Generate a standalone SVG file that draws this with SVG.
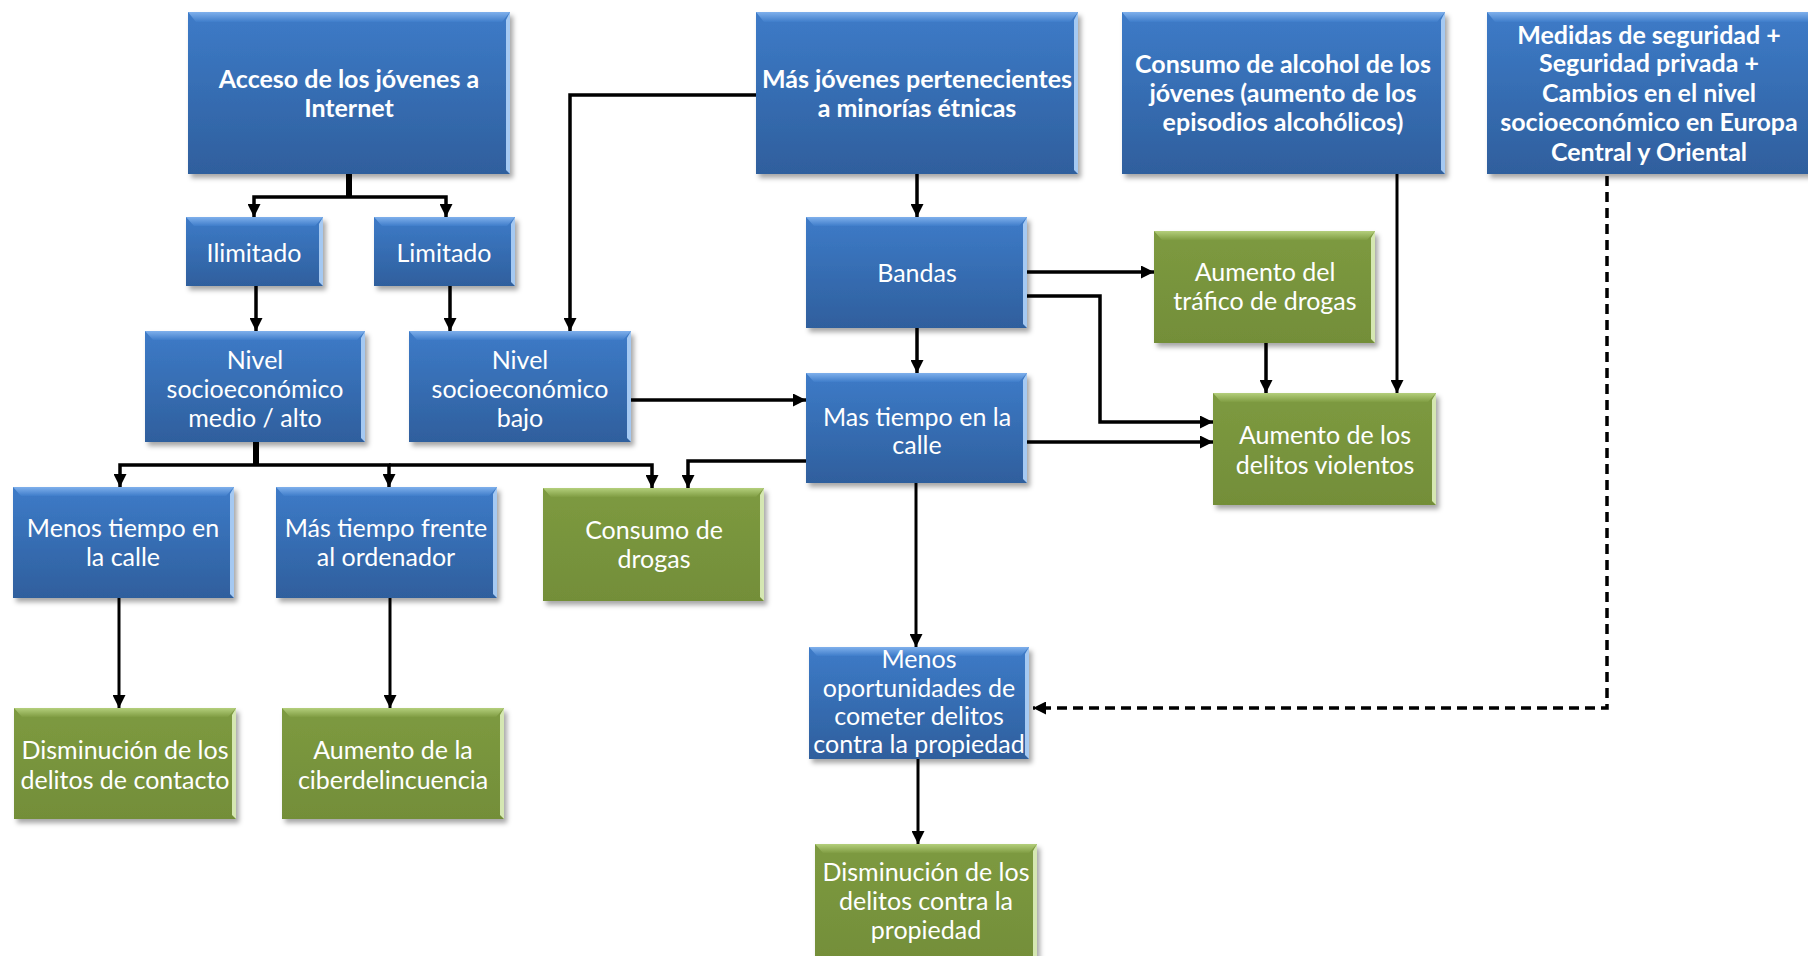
<svg xmlns="http://www.w3.org/2000/svg" width="1808" height="956" viewBox="0 0 1808 956">
<defs>
<linearGradient id="gBlue" x1="0" y1="0" x2="0" y2="1"><stop offset="0" stop-color="#3d7bc8"/><stop offset="1" stop-color="#2f5f9d"/></linearGradient>
<linearGradient id="gBlueTop" x1="0" y1="0" x2="0" y2="1"><stop offset="0" stop-color="#7fb0ec"/><stop offset="1" stop-color="#3f7dca"/></linearGradient>
<linearGradient id="gGreen" x1="0" y1="0" x2="0" y2="1"><stop offset="0" stop-color="#7d9a40"/><stop offset="1" stop-color="#738e39"/></linearGradient>
<linearGradient id="gGreenTop" x1="0" y1="0" x2="0" y2="1"><stop offset="0" stop-color="#b4cf7c"/><stop offset="1" stop-color="#809d43"/></linearGradient>
<filter id="sh" x="-10%" y="-10%" width="125%" height="130%"><feDropShadow dx="3" dy="4" stdDeviation="2.5" flood-color="#000" flood-opacity="0.35"/></filter>
<marker id="ah" markerUnits="userSpaceOnUse" markerWidth="13" markerHeight="13" viewBox="0 0 10 10" refX="10" refY="5" orient="auto"><path d="M0,0 L10,5 L0,10 z" fill="#000"/></marker>
</defs>
<style>
.blue .body{fill:url(#gBlue);filter:url(#sh)}
.blue .top{fill:url(#gBlueTop)}
.blue .rs{fill:#a5c9f2}
.green .body{fill:url(#gGreen);filter:url(#sh)}
.green .top{fill:url(#gGreenTop)}
.green .rs{fill:#d5e7b2}
text{font-family:"Lato","Liberation Sans",sans-serif;font-size:25px;fill:#fff;text-anchor:middle}
.b{font-weight:bold}
.c{fill:none;stroke:#000;stroke-width:3.5}
.c.thin{stroke-width:3}
.c.thick{stroke-width:6}
.c.dash{stroke-width:3.5;stroke-dasharray:10 6}
</style>
<rect width="1808" height="956" fill="#fff"/>

<g id="connectors">
<path class="c thick" d="M349,174 V197"/>
<path class="c" d="M349,197 H254 V217" marker-end="url(#ah)"/>
<path class="c" d="M349,197 H446 V217" marker-end="url(#ah)"/>
<path class="c" d="M256,286 V331" marker-end="url(#ah)"/>
<path class="c" d="M450,286 V331" marker-end="url(#ah)"/>
<path class="c" d="M756,95 H570 V331" marker-end="url(#ah)"/>
<path class="c thick" d="M256,442 V465"/>
<path class="c" d="M256,465 H120 V487" marker-end="url(#ah)"/>
<path class="c" d="M256,465 H389 V487" marker-end="url(#ah)"/>
<path class="c" d="M389,465 H652 V488" marker-end="url(#ah)"/>
<path class="c" d="M806,461 H688 V488" marker-end="url(#ah)"/>
<path class="c" d="M917,174 V217" marker-end="url(#ah)"/>
<path class="c" d="M917,328 V373" marker-end="url(#ah)"/>
<path class="c" d="M631,400 H806" marker-end="url(#ah)"/>
<path class="c" d="M1027,272 H1154" marker-end="url(#ah)"/>
<path class="c" d="M1027,296 H1100 V422 H1213" marker-end="url(#ah)"/>
<path class="c" d="M1027,442 H1213" marker-end="url(#ah)"/>
<path class="c" d="M1266,343 V393" marker-end="url(#ah)"/>
<path class="c thin" d="M1397,174 V393" marker-end="url(#ah)"/>
<path class="c thin" d="M916,483 V647" marker-end="url(#ah)"/>
<path class="c thin" d="M918,759 V844" marker-end="url(#ah)"/>
<path class="c thin" d="M119,598 V708" marker-end="url(#ah)"/>
<path class="c thin" d="M390,598 V708" marker-end="url(#ah)"/>
<path class="c dash" d="M1607,176 V708 H1033" marker-end="url(#ah)"/>
</g>

<g id="n_acceso" class="blue">
<rect class="body" x="188" y="12" width="322" height="162"/>
<polygon class="top" points="188,12 510,12 502,22 196,22"/>
<polygon class="rs" points="510,12 510,174 506,170 506,20"/>
<text class="b" x="349" y="88">Acceso de los jóvenes a</text>
<text class="b" x="349" y="117">Internet</text>
</g>

<g id="n_ilimitado" class="blue">
<rect class="body" x="186" y="217" width="137" height="69"/>
<polygon class="top" points="186,217 323,217 315,226 194,226"/>
<polygon class="rs" points="323,217 323,286 319,282 319,224"/>
<text x="254" y="262">Ilimitado</text>
</g>

<g id="n_limitado" class="blue">
<rect class="body" x="374" y="217" width="141" height="69"/>
<polygon class="top" points="374,217 515,217 507,226 382,226"/>
<polygon class="rs" points="515,217 515,286 511,282 511,224"/>
<text x="444" y="262">Limitado</text>
</g>

<g id="n_medio" class="blue">
<rect class="body" x="145" y="331" width="220" height="111"/>
<polygon class="top" points="145,331 365,331 357,340 153,340"/>
<polygon class="rs" points="365,331 365,442 361,438 361,338"/>
<text x="255" y="369">Nivel</text>
<text x="255" y="398">socioeconómico</text>
<text x="255" y="427">medio / alto</text>
</g>

<g id="n_bajo" class="blue">
<rect class="body" x="409" y="331" width="222" height="111"/>
<polygon class="top" points="409,331 631,331 623,340 417,340"/>
<polygon class="rs" points="631,331 631,442 627,438 627,338"/>
<text x="520" y="369">Nivel</text>
<text x="520" y="398">socioeconómico</text>
<text x="520" y="427">bajo</text>
</g>

<g id="n_minorias" class="blue">
<rect class="body" x="756" y="12" width="322" height="162"/>
<polygon class="top" points="756,12 1078,12 1070,22 764,22"/>
<polygon class="rs" points="1078,12 1078,174 1074,170 1074,20"/>
<text class="b" x="917" y="88">Más jóvenes pertenecientes</text>
<text class="b" x="917" y="117">a minorías étnicas</text>
</g>

<g id="n_alcohol" class="blue">
<rect class="body" x="1122" y="12" width="323" height="162"/>
<polygon class="top" points="1122,12 1445,12 1437,22 1130,22"/>
<polygon class="rs" points="1445,12 1445,174 1441,170 1441,20"/>
<text class="b" x="1283" y="73">Consumo de alcohol de los</text>
<text class="b" x="1283" y="102">jóvenes (aumento de los</text>
<text class="b" x="1283" y="131">episodios alcohólicos)</text>
</g>

<g id="n_medidas" class="blue">
<rect class="body" x="1487" y="12" width="330" height="162"/>
<polygon class="top" points="1487,12 1817,12 1809,22 1495,22"/>
<text class="b" x="1649" y="44">Medidas de seguridad +</text>
<text class="b" x="1649" y="72">Seguridad privada +</text>
<text class="b" x="1649" y="102">Cambios en el nivel</text>
<text class="b" x="1649" y="131">socioeconómico en Europa</text>
<text class="b" x="1649" y="161">Central y Oriental</text>
</g>

<g id="n_bandas" class="blue">
<rect class="body" x="806" y="217" width="221" height="111"/>
<polygon class="top" points="806,217 1027,217 1019,226 814,226"/>
<polygon class="rs" points="1027,217 1027,328 1023,324 1023,224"/>
<text x="917" y="282">Bandas</text>
</g>

<g id="n_trafico" class="green">
<rect class="body" x="1154" y="231" width="221" height="112"/>
<polygon class="top" points="1154,231 1375,231 1367,240 1162,240"/>
<polygon class="rs" points="1375,231 1375,343 1371,339 1371,238"/>
<text x="1265" y="281">Aumento del</text>
<text x="1265" y="310">tráfico de drogas</text>
</g>

<g id="n_calle" class="blue">
<rect class="body" x="806" y="373" width="221" height="110"/>
<polygon class="top" points="806,373 1027,373 1019,382 814,382"/>
<polygon class="rs" points="1027,373 1027,483 1023,479 1023,380"/>
<text x="917" y="426">Mas tiempo en la</text>
<text x="917" y="454">calle</text>
</g>

<g id="n_violentos" class="green">
<rect class="body" x="1213" y="393" width="223" height="112"/>
<polygon class="top" points="1213,393 1436,393 1428,402 1221,402"/>
<polygon class="rs" points="1436,393 1436,505 1432,501 1432,400"/>
<text x="1325" y="444">Aumento de los</text>
<text x="1325" y="474">delitos violentos</text>
</g>

<g id="n_menos_calle" class="blue">
<rect class="body" x="13" y="487" width="221" height="111"/>
<polygon class="top" points="13,487 234,487 226,496 21,496"/>
<polygon class="rs" points="234,487 234,598 230,594 230,494"/>
<text x="123" y="537">Menos tiempo en</text>
<text x="123" y="566">la calle</text>
</g>

<g id="n_ordenador" class="blue">
<rect class="body" x="276" y="487" width="221" height="111"/>
<polygon class="top" points="276,487 497,487 489,496 284,496"/>
<polygon class="rs" points="497,487 497,598 493,594 493,494"/>
<text x="386" y="537">Más tiempo frente</text>
<text x="386" y="566">al ordenador</text>
</g>

<g id="n_drogas" class="green">
<rect class="body" x="543" y="488" width="221" height="113"/>
<polygon class="top" points="543,488 764,488 756,497 551,497"/>
<polygon class="rs" points="764,488 764,601 760,597 760,495"/>
<text x="654" y="539">Consumo de</text>
<text x="654" y="568">drogas</text>
</g>

<g id="n_contacto" class="green">
<rect class="body" x="14" y="708" width="222" height="111"/>
<polygon class="top" points="14,708 236,708 228,717 22,717"/>
<polygon class="rs" points="236,708 236,819 232,815 232,715"/>
<text x="125" y="759">Disminución de los</text>
<text x="125" y="789">delitos de contacto</text>
</g>

<g id="n_ciber" class="green">
<rect class="body" x="282" y="708" width="222" height="111"/>
<polygon class="top" points="282,708 504,708 496,717 290,717"/>
<polygon class="rs" points="504,708 504,819 500,815 500,715"/>
<text x="393" y="759">Aumento de la</text>
<text x="393" y="789">ciberdelincuencia</text>
</g>

<g id="n_oportunidades" class="blue">
<rect class="body" x="809" y="647" width="220" height="112"/>
<polygon class="top" points="809,647 1029,647 1021,656 817,656"/>
<polygon class="rs" points="1029,647 1029,759 1025,755 1025,654"/>
<text x="919" y="668">Menos</text>
<text x="919" y="697">oportunidades de</text>
<text x="919" y="725">cometer delitos</text>
<text x="919" y="753">contra la propiedad</text>
</g>

<g id="n_propiedad" class="green">
<rect class="body" x="815" y="844" width="222" height="120"/>
<polygon class="top" points="815,844 1037,844 1029,853 823,853"/>
<polygon class="rs" points="1037,844 1037,964 1033,960 1033,851"/>
<text x="926" y="881">Disminución de los</text>
<text x="926" y="910">delitos contra la</text>
<text x="926" y="939">propiedad</text>
</g>
</svg>
